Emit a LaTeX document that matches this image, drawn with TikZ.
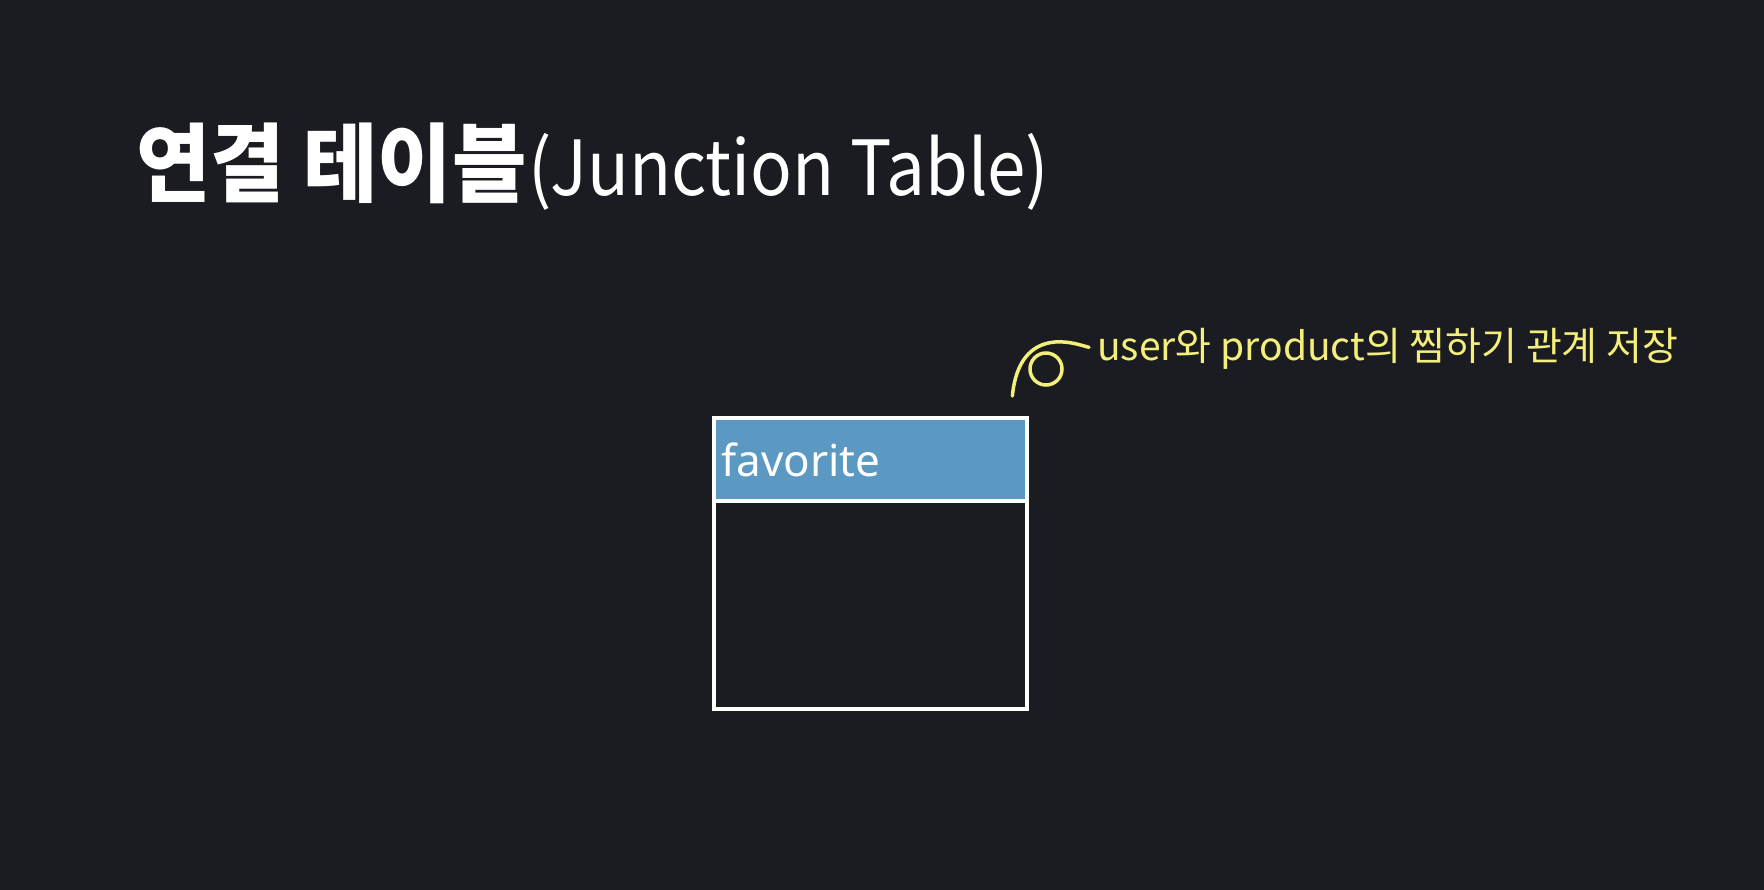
\documentclass[tikz,border=0pt]{standalone}
\usepackage{fontspec}
\setsansfont{Noto Sans}
\newfontfamily\krfont{Noto Sans CJK KR}
\usetikzlibrary{positioning,calc}
\definecolor{bgdark}{HTML}{1B1C21}
\definecolor{headblue}{HTML}{5B99C2}
\definecolor{noteyellow}{HTML}{F4EE7A}
\tikzset{
  tablehead/.style={anchor=north west,fill=headblue,minimum width=309,minimum height=79,inner sep=0},
  tablebody/.style={fill=bgdark,minimum width=309,minimum height=203,inner sep=0},
  notetext/.style={anchor=base west,inner sep=0,text=noteyellow,font=\krfont\fontsize{39}{42}\selectfont},
  noteline/.style={noteyellow,line width=3.5pt,line cap=round}
}

\begin{document}
\begin{tikzpicture}[x=1pt,y=-1pt]
\fill[bgdark] (0,0) rectangle (1764,890);
\useasboundingbox (0,0) rectangle (1764,890);
\node[anchor=base west,inner sep=0,text=white,font=\krfont] (title) at (136,196)
  {\scalebox{0.94}[1]{\fontsize{86}{90}\selectfont\bfseries 연결 테이블}\,\scalebox{0.91}[1]{\fontsize{76}{80}\selectfont(Junction Table)}};
\node[tablehead] (fav) at (716,420) {};
\node[anchor=base west,inner sep=0,text=white,font=\sffamily\fontsize{44}{48}\selectfont] (favname) at ($(fav.south west)+(5,-23)$) {favorite};
\node[tablebody,below=4pt of fav] (body) {};
\draw[white,line width=4pt] ($(fav.north west)+(-2,-2)$) rectangle ($(body.south east)+(2,2)$);
\draw[white,line width=4pt] ($(fav.south west)+(-2,2)$) -- ($(fav.south east)+(2,2)$);
\node[notetext] (note) at (1097,361) {user와 product의 찜하기 관계 저장};
\coordinate (swirlstart) at ($(fav.north east)+(-13,-24)$);
\draw[noteline] (swirlstart) .. controls +(3,-33) and +(-25,2) .. (1055,342) .. controls +(15,-1) and +(-8,-2) .. ($(note.west)+(-8,-2)$);
\draw[noteline] (1046,369) ellipse [x radius=16,y radius=16];
\end{tikzpicture}
\end{document}
